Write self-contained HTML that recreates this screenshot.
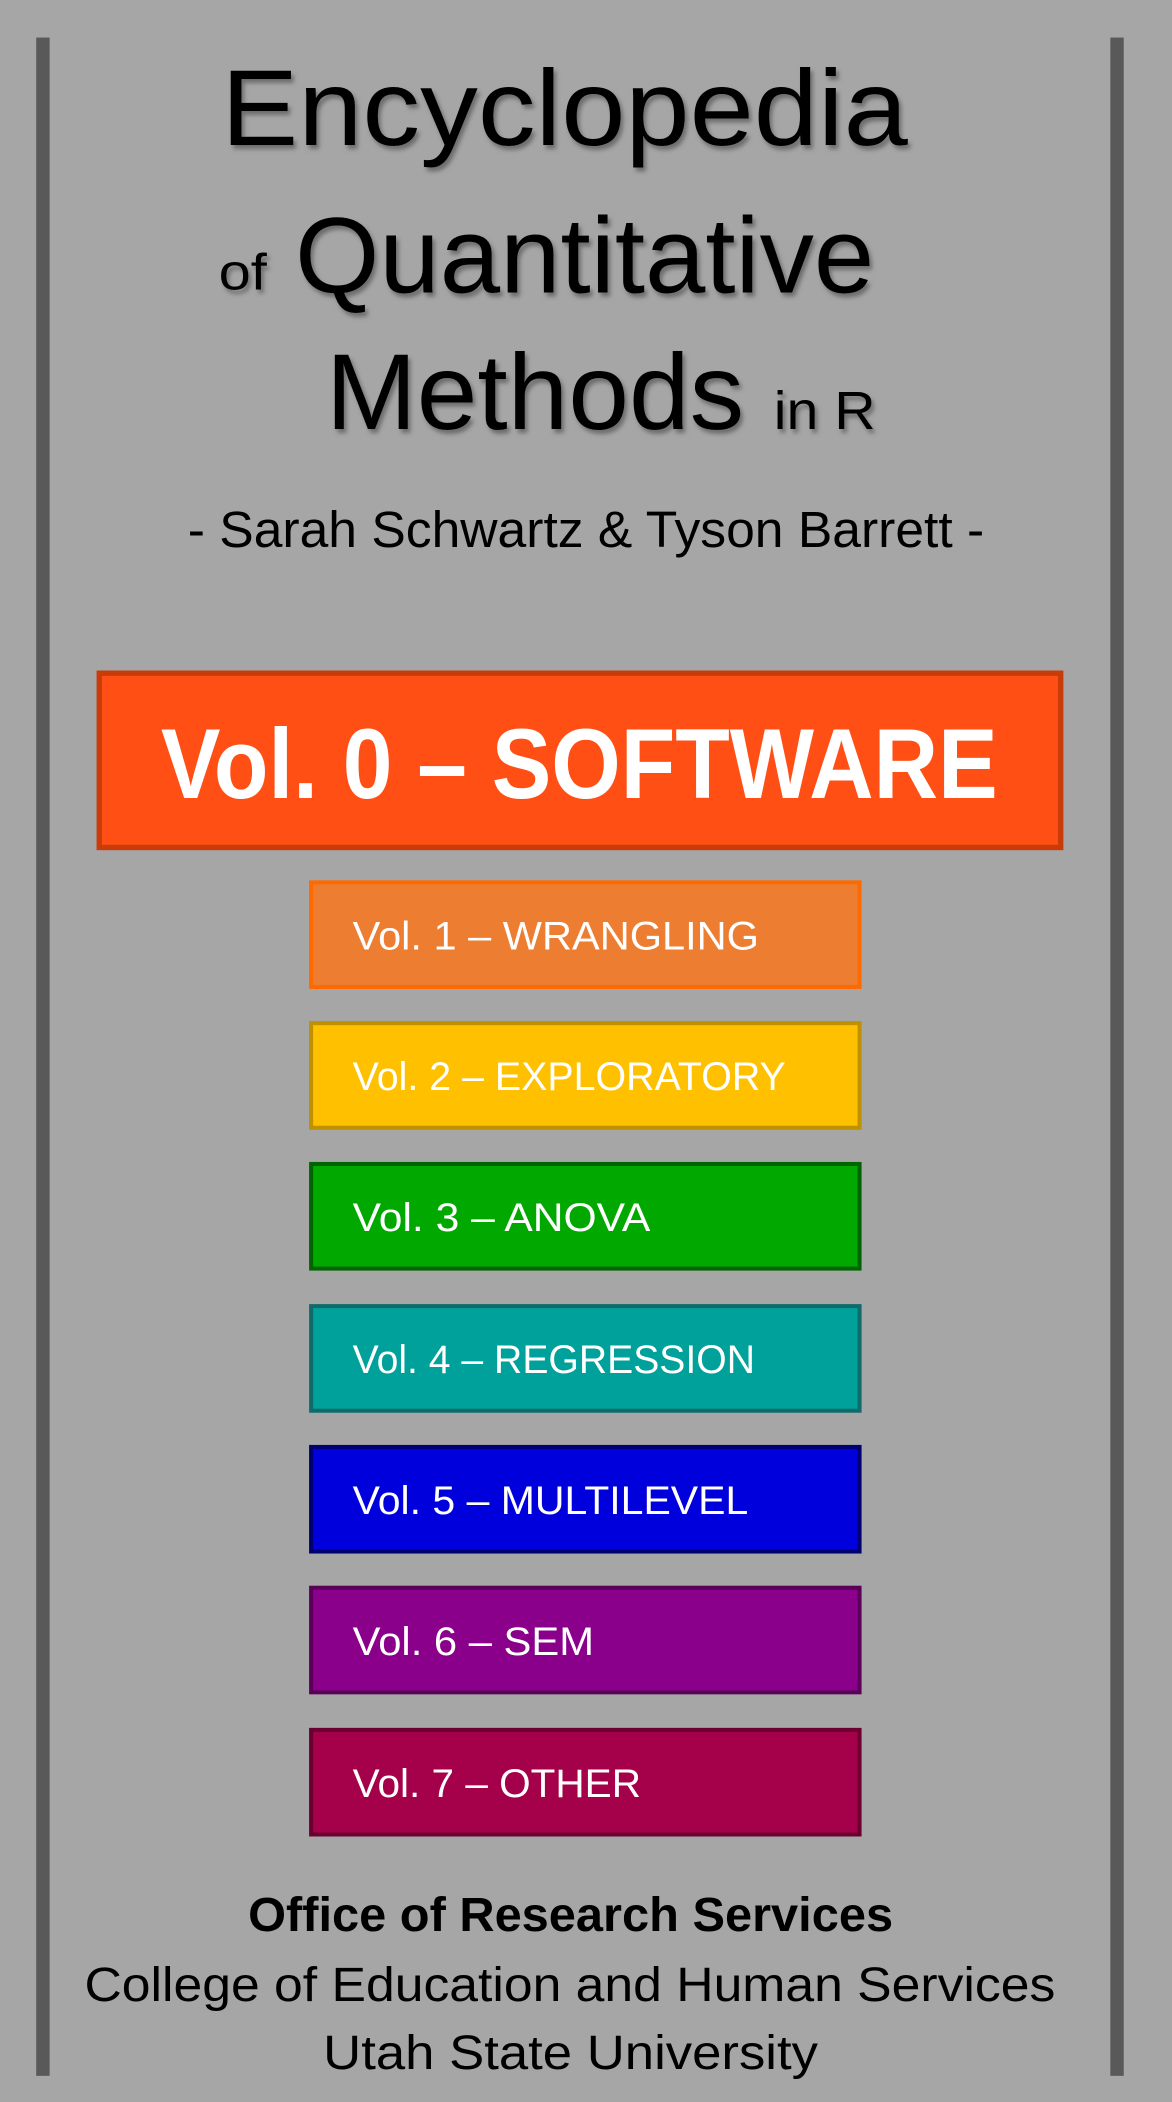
<!DOCTYPE html>
<html><head><meta charset="utf-8"><style>
html,body{margin:0;padding:0;background:#a6a6a6;}
svg{display:block;}
text{font-family:"Liberation Sans","DejaVu Sans",sans-serif;}
</style></head><body>
<svg width="1172" height="2102" viewBox="0 0 874 1567.5" preserveAspectRatio="none">
<defs><filter id="sh" x="-5%" y="-5%" width="115%" height="130%"><feDropShadow dx="2" dy="3" stdDeviation="1.5" flood-color="#555" flood-opacity="0.7"/></filter></defs>
<rect x="0" y="0" width="874" height="1567.5" fill="#a6a6a6"/>
<rect x="27" y="28" width="10" height="1520" fill="#595959"/>
<rect x="828" y="28" width="10" height="1520" fill="#595959"/>
<g filter="url(#sh)" fill="#000">
<text x="165" y="108" font-size="80" textLength="512" lengthAdjust="spacingAndGlyphs">Encyclopedia</text>
<text x="163" y="216" font-size="38" textLength="36" lengthAdjust="spacingAndGlyphs">of</text>
<text x="220" y="218" font-size="80" textLength="432" lengthAdjust="spacingAndGlyphs">Quantitative</text>
<text x="243" y="320" font-size="80" textLength="312" lengthAdjust="spacingAndGlyphs">Methods</text>
<text x="577" y="320" font-size="40" textLength="76" lengthAdjust="spacingAndGlyphs">in R</text>
</g>
<text x="140" y="408" font-size="38" textLength="594" lengthAdjust="spacingAndGlyphs">- Sarah Schwartz &amp; Tyson Barrett -</text>
<rect x="74" y="502" width="717" height="130" fill="#ff4f14" stroke="#c83c0a" stroke-width="4"/>
<text x="120" y="595" font-size="74" font-weight="bold" fill="#fff" textLength="624" lengthAdjust="spacingAndGlyphs">Vol. 0 – SOFTWARE</text>
<g>
<rect x="232" y="658" width="409" height="78" fill="#ed7d31" stroke="#ff6a00" stroke-width="3"/>
<text x="263" y="708" font-size="30" fill="#fff" textLength="303" lengthAdjust="spacingAndGlyphs">Vol. 1 – WRANGLING</text>
<rect x="232" y="763" width="409" height="78" fill="#ffc000" stroke="#bf9000" stroke-width="3"/>
<text x="263" y="813" font-size="30" fill="#fff" textLength="323" lengthAdjust="spacingAndGlyphs">Vol. 2 – EXPLORATORY</text>
<rect x="232" y="868" width="409" height="78" fill="#00a800" stroke="#006400" stroke-width="3"/>
<text x="263" y="918" font-size="30" fill="#fff" textLength="222" lengthAdjust="spacingAndGlyphs">Vol. 3 – ANOVA</text>
<rect x="232" y="974" width="409" height="78" fill="#00a19a" stroke="#0e6b6b" stroke-width="3"/>
<text x="263" y="1024" font-size="30" fill="#fff" textLength="300" lengthAdjust="spacingAndGlyphs">Vol. 4 – REGRESSION</text>
<rect x="232" y="1079" width="409" height="78" fill="#0000dd" stroke="#000070" stroke-width="3"/>
<text x="263" y="1129" font-size="30" fill="#fff" textLength="295" lengthAdjust="spacingAndGlyphs">Vol. 5 – MULTILEVEL</text>
<rect x="232" y="1184" width="409" height="78" fill="#8b008b" stroke="#5a005a" stroke-width="3"/>
<text x="263" y="1234" font-size="30" fill="#fff" textLength="180" lengthAdjust="spacingAndGlyphs">Vol. 6 – SEM</text>
<rect x="232" y="1290" width="409" height="78" fill="#a5004a" stroke="#6b0030" stroke-width="3"/>
<text x="263" y="1340" font-size="30" fill="#fff" textLength="215" lengthAdjust="spacingAndGlyphs">Vol. 7 – OTHER</text>
</g>
<text x="185" y="1440" font-size="36" font-weight="bold" textLength="481" lengthAdjust="spacingAndGlyphs">Office of Research Services</text>
<text x="63" y="1492" font-size="36" textLength="724" lengthAdjust="spacingAndGlyphs">College of Education and Human Services</text>
<text x="241" y="1543" font-size="36" textLength="369" lengthAdjust="spacingAndGlyphs">Utah State University</text>
</svg>
</body></html>
